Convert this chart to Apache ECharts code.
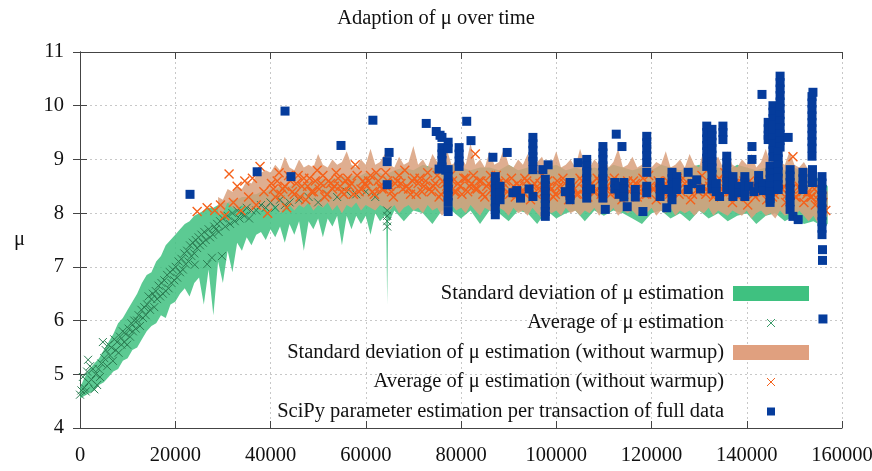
<!DOCTYPE html>
<html>
<head>
<meta charset="utf-8">
<script src="https://cdn.jsdelivr.net/npm/echarts@6/dist/echarts.min.js"></script>
<style>html,body{margin:0;padding:0;background:#fff}#c{width:872px;height:471px}</style>
</head>
<body>
<div id="c"></div>
<script>
const chartTitle = 'Adaption of μ over time';
const yAxisName = 'μ';
const seriesNames = [
  'Standard deviation of μ estimation',
  'Average of μ estimation',
  'Standard deviation of μ estimation (without warmup)',
  'Average of μ estimation (without warmup)',
  'SciPy parameter estimation per transaction of full data'
];
const xRange = [0, 160000, 20000];
const yRange = [4, 11, 1];

// Standard deviation band (all data)
const greenBandX = [0,1000,2000,3000,4000,5000,6000,7000,8000,9000,
  10000,11000,12000,13000,14000,15000,16000,17000,18000,19000,
  20000,21000,22000,23000,24000,25000,26000,27000,28000,29000,
  30000,31000,32000,33000,34000,35000,36000,37000,38000,39000,
  40000,41000,42000,43000,44000,45000,46000,47000,48000,49000,
  50000,51000,52000,53000,54000,55000,56000,57000,58000,59000,
  60000,61000,62000,63000,64000,64300,64500,64700,65000,
  66000,68000,70000,72000,74000,76000,78000,80000,82000,84000,
  86000,88000,90000,92000,94000,96000,98000,100000,102000,104000,
  106000,108000,110000,112000,114000,116000,118000,120000,122000,124000,
  126000,128000,130000,132000,134000,136000,138000,140000,142000,144000,
  146000,148000,150000,152000,154000,156000,157000];
const greenBandLow = [4.55,4.6,4.65,4.7,4.8,4.85,4.95,5.05,5.1,5.25,
  5.3,5.45,5.5,5.65,5.8,5.9,5.95,6.1,6.05,6.3,
  6.35,6.5,6.6,6.45,6.7,6.8,6.3,6.95,6.1,7.1,
  6.7,7.3,6.9,7.45,7.3,7.55,7.4,7.6,7.65,7.5,
  7.7,7.55,7.75,7.45,7.8,7.6,7.85,7.3,7.85,7.7,
  7.9,7.55,7.9,7.75,7.95,7.4,7.95,7.7,7.95,7.8,
  7.95,7.6,8.0,7.85,7.95,7.9,6.3,7.9,7.85,
  8.05,7.85,8.05,8.0,7.8,8.05,8.05,7.9,8.05,7.8,
  8.05,8.0,7.85,8.05,8.0,7.8,8.05,7.9,8.0,8.05,
  7.85,8.05,7.95,8.05,8.0,7.9,7.8,8.0,8.05,7.9,
  8.0,7.85,8.05,7.9,8.0,7.85,7.95,8.0,7.8,7.95,
  8.0,7.85,7.95,7.8,7.85,7.75,7.8];
const greenBandHigh = [4.75,4.95,5.1,5.2,5.3,5.45,5.6,5.75,5.95,6.05,
  6.2,6.35,6.5,6.7,6.85,6.9,7.1,7.2,7.4,7.5,
  7.6,7.7,7.8,7.85,7.95,8.0,8.05,8.1,8.1,8.15,
  8.2,8.2,8.25,8.25,8.3,8.3,8.35,8.35,8.4,8.4,
  8.45,8.45,8.5,8.5,8.5,8.55,8.55,8.55,8.6,8.6,
  8.6,8.65,8.6,8.65,8.65,8.7,8.65,8.7,8.7,8.7,
  8.75,8.7,8.75,8.75,8.7,8.7,8.7,8.75,8.75,
  8.8,8.85,8.8,8.9,8.85,8.8,8.9,8.85,8.8,8.85,
  8.85,8.8,8.9,8.8,8.85,8.8,8.85,8.9,8.8,8.85,
  8.8,8.85,8.8,8.9,8.85,8.8,8.85,8.8,8.9,8.85,
  8.8,8.85,8.9,8.8,8.85,8.8,8.9,8.85,8.8,8.85,
  8.85,8.8,8.85,8.75,8.7,8.6,8.5];

// Average of estimation (all data)
const greenAvg = [[0,4.62],[300,4.7],[600,4.95],[900,4.75],[1200,4.68],[1500,5.05],[1700,5.27],[1800,4.85],[2100,5.15],[2400,4.9],
  [2700,5.1],[3000,4.72],[3300,5.0],[3600,4.8],[3900,5.1],[4200,4.95],[4500,5.2],[4800,5.6],[5100,5.3],[5400,5.45],
  [5700,5.15],[6000,5.55],[6300,5.35],[6600,5.5],[6900,5.25],[7200,5.65],[7500,5.45],[7800,5.6],[8100,5.4],[8400,5.7],
  [8700,5.55],[9000,5.8],[9300,5.6],[9600,5.75],[9900,5.55],[10200,5.85],[10500,5.7],[10800,5.95],[11100,5.8],[11400,6.0],
  [11700,5.85],[12000,6.0],[12300,6.1],[12600,5.9],[12900,6.2],[13200,6.05],[13500,6.25],[13800,6.1],[14100,6.3],[14400,6.45],
  [14700,6.2],[15000,6.4],[15300,6.5],[15600,6.25],[15900,6.55],[16200,6.4],[16500,6.65],[16800,6.45],[17100,6.7],[17400,6.5],
  [17700,6.75],[18000,6.55],[18300,6.85],[18600,6.6],[18900,6.9],[19200,6.7],[19500,6.95],[19800,6.75],[20100,7.0],[20400,6.8],
  [20700,7.1],[21000,6.9],[21300,7.15],[21600,6.95],[21900,7.25],[22200,7.05],[22500,7.3],[22800,7.1],[23100,7.4],[23400,7.2],
  [23700,7.45],[24000,7.25],[24100,7.04],[24300,7.5],[24600,7.35],[24900,7.55],[25200,7.4],[25500,7.6],[25800,7.45],[26100,7.65],
  [26400,7.5],[26700,7.05],[27000,7.7],[27300,7.55],[27700,7.17],[27900,7.6],[28200,7.75],[28500,7.7],[28800,7.8],[29100,7.65],
  [29400,7.85],[29800,7.2],[30000,7.9],[30500,7.75],[31000,7.95],[31500,7.8],[32000,8.0],[32500,7.85],[33000,8.05],[33500,7.9],
  [34000,8.0],[34500,7.95],[35000,8.1],[35500,7.9],[36000,8.05],[37000,8.05],[38000,8.15],[39000,8.1],[40000,8.2],[41000,8.1],
  [42000,8.25],[43000,8.15],[44000,8.2],[46000,8.25],[48000,8.3],[50000,8.2],[52000,8.35],[54000,8.3],[56000,8.4],[58000,8.35],
  [60000,8.4],[62000,8.3],[64500,7.75],[64500,7.85],[64500,7.95],[64500,8.05]];

// Standard deviation band (without warmup)
const orangeBandX = [29000,30000,31000,32000,33000,34000,35000,36000,37000,38000,
  39000,40000,41000,42000,43000,44000,45000,46000,47000,48000,
  49000,50000,51000,52000,53000,54000,55000,56000,57000,58000,
  59000,60000,61000,62000,63000,64000,65000,66000,67000,68000,
  69000,70000,71000,72000,73000,74000,75000,76000,77000,78000,
  79000,80000,81000,82000,83000,84000,85000,86000,87000,88000,
  89000,90000,91000,92000,93000,94000,95000,96000,97000,98000,
  99000,100000,101000,102000,103000,104000,105000,106000,107000,108000,
  109000,110000,111000,112000,113000,114000,115000,116000,117000,118000,
  119000,120000,121000,122000,123000,124000,125000,126000,127000,128000,
  129000,130000,131000,132000,133000,134000,135000,136000,137000,138000,
  139000,140000,141000,142000,143000,144000,145000,146000,147000,148000,
  149000,150000,151000,152000,153000,154000,155000,156000,157000];
const orangeBandLow = [7.95,8.0,8.2,8.1,8.05,8.15,8.1,8.0,8.1,8.05,
  8.1,8.05,8.15,8.0,8.1,8.15,8.05,8.15,8.1,8.2,
  8.05,8.15,8.1,8.2,8.05,8.15,8.0,8.15,8.1,8.2,
  8.05,8.15,8.1,8.05,8.15,8.1,8.05,8.15,8.0,8.1,
  8.15,8.05,8.1,8.0,8.15,8.05,8.1,7.95,8.05,8.15,
  8.05,8.1,8.0,8.15,8.05,7.95,8.1,8.05,8.0,8.1,
  8.05,7.95,8.1,8.0,8.05,7.95,8.1,8.0,7.9,8.05,
  8.0,8.05,7.95,8.1,8.0,8.05,7.95,8.05,8.0,8.1,
  7.95,8.05,8.0,8.1,7.95,8.05,8.0,8.05,7.95,8.05,
  8.0,8.1,7.95,8.05,8.0,8.1,7.95,8.05,8.0,8.05,
  7.95,8.05,8.0,8.1,7.95,8.05,8.0,7.95,8.05,8.0,
  7.95,8.05,7.9,8.0,8.05,7.95,8.0,7.9,8.05,7.95,
  8.0,7.9,8.05,7.95,7.85,7.95,7.8,7.85,7.95];
const orangeBandHigh = [8.3,8.25,8.45,8.4,8.5,8.45,8.6,8.55,8.7,8.75,
  8.8,8.75,8.9,8.8,9.05,8.85,8.8,9.0,8.85,8.9,
  8.85,9.1,8.9,8.85,9.0,8.9,8.95,9.15,8.9,8.85,
  9.0,8.9,9.2,8.9,8.95,9.1,8.9,8.85,9.05,8.9,
  8.95,9.25,8.9,9.0,8.85,9.1,8.95,8.9,9.2,8.9,
  8.95,9.05,8.9,9.3,8.9,9.0,8.85,9.15,8.9,8.95,
  9.2,8.9,8.85,9.0,8.9,9.1,8.85,8.95,9.05,8.85,
  8.9,9.15,8.85,8.9,9.0,8.85,9.2,8.9,8.85,9.0,
  8.9,9.1,8.85,8.95,9.2,8.85,8.9,9.05,8.85,8.9,
  9.1,8.85,8.95,8.9,9.15,8.85,8.9,9.0,8.85,9.1,
  8.9,8.85,9.2,8.9,8.95,9.05,8.85,9.15,8.9,8.85,
  9.0,8.9,9.1,8.85,8.95,9.2,8.9,9.3,8.95,8.9,
  9.15,8.9,8.85,8.95,8.8,8.7,8.6,8.5,8.4];

// Average of estimation (without warmup) - first pass
const orangeAvg = [[24600,8.03],[26700,8.1],[28300,8.05],[29500,8.15],[30400,7.95],[31300,8.73],[32200,8.2],[33000,8.5],[33800,8.05],[34600,8.6],
  [35400,8.3],[36200,8.65],[37000,8.15],[37800,8.87],[38600,8.4],[39400,8.0],[40200,8.55],[41000,8.3],[41800,8.75],[42600,8.45],
  [43400,8.1],[44200,8.6],[45000,8.35],[45800,8.7],[46600,8.5],[47400,8.25],[48200,8.65],[49000,8.4],[49800,8.8],[50600,8.55],
  [51400,8.3],[52200,8.6],[53000,8.45],[53800,8.75],[54600,8.5],[55400,8.35],[56200,8.65],[57000,8.55],[57800,8.9],[58600,8.4],
  [59400,8.6],[60200,8.5],[61000,8.7],[61800,8.35],[62600,8.6],[63400,8.45],[64200,8.75],[65000,8.5],[65800,8.3],[66600,8.6],
  [67400,8.55],[68200,8.8],[69000,8.45],[69800,8.6],[70600,8.35],[71400,8.65],[72200,8.5],[73000,8.75],[73800,8.4],[74600,8.55],
  [75400,8.3],[76200,8.6],[77000,8.5],[77800,8.7],[78600,8.4],[79400,8.55],[80200,8.35],[81000,8.65],[81800,8.5],[82600,8.7],
  [83000,9.1],[83400,8.45],[84200,8.6],[85000,8.3],[85800,8.55],[86600,8.45],[87400,8.7],[88200,8.35],[89000,8.55],[89800,8.4],
  [90600,8.65],[91400,8.3],[92200,8.5],[93000,8.4],[93800,8.6],[94600,8.25],[95400,8.55],[96200,8.45],[97000,8.7],[97800,8.35],
  [98600,8.5],[99400,8.3],[100200,8.6],[101000,8.4],[101800,8.55],[102600,8.25],[103400,8.5],[104200,8.35],[105000,8.65],[105800,8.45],
  [106600,8.3],[107400,8.55],[108200,8.4],[109000,8.6],[109800,8.3],[110600,8.5],[111400,8.35],[112200,8.65],[113000,8.45],[113800,8.25],
  [114600,8.55],[115400,8.4],[116200,8.6],[117000,8.3],[117800,8.5],[118600,8.35],[119400,8.7],[120200,8.45],[121000,8.25],[121800,8.55],
  [122600,8.4],[123400,8.6],[124200,8.3],[125000,8.5],[125800,8.35],[126600,8.65],[127400,8.45],[128200,8.25],[129000,8.55],[129800,8.4],
  [130600,8.7],[131400,8.35],[132200,8.5],[133000,8.3],[133800,8.6],[134600,8.45],[135400,8.75],[136200,8.4],[137000,8.2],[137800,8.55],
  [138600,8.35],[139400,8.6],[140200,8.15],[141000,8.45],[141800,8.3],[142600,8.55],[143400,8.4],[144200,8.25],[145000,8.5],[145800,8.35],
  [146600,8.6],[147400,8.45],[148200,8.2],[149000,8.4],[149700,9.05],[150400,8.3],[151200,8.45],[152000,8.2],[152800,8.4],[153600,8.3],
  [154400,8.15],[155200,8.35],[156000,8.2],[156600,8.05]];
// Average of estimation (without warmup) - interleaved points
const orangeAvgMore = [[40600,8.45],[41400,8.6],[42200,8.35],[43000,8.5],[43800,8.7],[44600,8.4],[45400,8.55],[46200,8.3],[47000,8.65],[47800,8.5],
  [48600,8.4],[49400,8.6],[50200,8.45],[51000,8.7],[51800,8.35],[52600,8.55],[53400,8.5],[54200,8.65],[55000,8.4],[55800,8.6],
  [56600,8.5],[57400,8.35],[58200,8.7],[59000,8.45],[59800,8.55],[60600,8.6],[61400,8.4],[62200,8.75],[63000,8.5],[63800,8.45],
  [64600,8.6],[65400,8.4],[66200,8.55],[67000,8.7],[67800,8.45],[68600,8.5],[69400,8.35],[70200,8.65],[71000,8.55],[71800,8.4],
  [72600,8.6],[73400,8.45],[74200,8.5],[75000,8.7],[75800,8.35],[76600,8.55],[77400,8.45],[78200,8.6],[79000,8.4],[79800,8.5],
  [80600,8.65],[81400,8.4],[82200,8.55],[83000,8.45],[83800,8.6],[84600,8.35],[85400,8.5],[86200,8.7],[87000,8.4],[87800,8.55],
  [88600,8.45],[89400,8.6],[90200,8.35],[91000,8.5],[91800,8.55],[92600,8.4],[93400,8.65],[94200,8.45],[95000,8.5],[95800,8.35],
  [96600,8.55],[97400,8.4],[98200,8.6],[99000,8.45],[99800,8.35],[100600,8.5],[101400,8.65],[102200,8.4],[103000,8.55],[103800,8.45],
  [104600,8.35],[105400,8.6],[106200,8.45],[107000,8.5],[107800,8.4],[108600,8.65],[109400,8.35],[110200,8.55],[111000,8.45],[111800,8.6],
  [112600,8.4],[113400,8.5],[114200,8.35],[115000,8.6],[115800,8.45],[116600,8.55],[117400,8.4],[118200,8.65],[119000,8.35],[119800,8.5],
  [120600,8.45],[121400,8.6],[122200,8.4],[123000,8.55],[123800,8.35],[124600,8.5],[125400,8.65],[126200,8.4],[127000,8.55],[127800,8.45],
  [128600,8.35],[129400,8.6],[130200,8.45],[131000,8.5],[131800,8.4],[132600,8.55],[133400,8.35],[134200,8.65],[135000,8.45],[135800,8.5],
  [136600,8.4],[137400,8.55],[138200,8.3],[139000,8.5],[139800,8.45],[140600,8.6],[141400,8.35],[142200,8.5],[143000,8.4],[143800,8.55],
  [144600,8.45],[145400,8.3],[146200,8.55],[147000,8.4],[147800,8.5],[148600,8.35],[149400,8.45],[150200,8.3],[151000,8.5],[151800,8.4],
  [152600,8.35],[153400,8.3],[154200,8.45],[155000,8.25],[155800,8.3]];

// SciPy parameter estimation per transaction of full data
const sciPy = [[23100,8.35],[37200,8.77],[43050,9.9],[44300,8.68],[54800,9.26],[61500,9.73],
  [64900,9.13],[64500,8.96],[64500,8.53],
  [72700,9.67],[74800,9.52],[75600,9.45],[76000,9.41],[77300,9.32],
  [76000,9.22],[76000,9.1],[76000,8.98],[76000,8.86],[75400,8.82],[76800,8.8],
  [77300,9.2],[77300,8.81],[77300,8.68],[77300,8.56],[77300,8.44],[77300,8.32],[77300,8.2],[77300,8.03],
  [79600,9.22],[79600,9.1],[79600,8.97],[79600,8.87],
  [81200,9.71],[82100,9.35],[86700,9.04],[89700,9.13],[87200,8.68],
  [87200,8.57],[87200,8.45],[87200,8.33],[87200,8.21],[87200,8.09],[87200,7.97],[88200,8.5],[88200,8.38],[88200,8.25],
  [90900,8.38],[91700,8.42],[92500,8.28],
  [95100,9.41],[95100,9.29],[95100,9.17],[95100,9.05],[95100,8.96],[95100,8.81],[95100,8.31],[94300,8.45],
  [97200,8.81],[98300,8.9],
  [97700,8.63],[97700,8.51],[97700,8.39],[97700,8.27],[97700,8.15],[97700,8.03],[97700,7.94],
  [102900,8.57],[102900,8.45],[102900,8.33],[102900,8.25],[101900,8.4],[104600,8.94],
  [106400,9.0],[106400,8.88],[106400,8.76],[106400,8.64],[106400,8.52],[106400,8.4],[106400,8.28],[107200,8.45],
  [109800,9.24],[109800,9.12],[109800,9.0],[109800,8.88],[109800,8.76],[109800,8.64],[109800,8.52],[109800,8.4],[109800,8.28],[110300,8.07],
  [112600,9.47],[113800,9.24],
  [112300,8.57],[112300,8.45],[113200,8.5],[113200,8.35],[114200,8.57],[114200,8.45],[114200,8.3],[114900,8.12],
  [116600,8.44],[116600,8.3],[118200,8.03],
  [119000,9.43],[119000,9.31],[119000,9.19],[119000,9.07],[119000,8.94],[119000,8.76],[119000,8.5],[119000,8.38],
  [121800,8.57],[121800,8.45],[121800,8.31],[123200,8.44],[123200,8.1],
  [124300,8.76],[124300,8.64],[124300,8.52],[124300,8.4],[124300,8.25],
  [125300,8.68],[125300,8.56],[125300,8.44],[127700,8.76],[127700,8.44],[128500,8.55],[129500,8.62],[130300,8.45],
  [131600,9.62],[131600,9.5],[131600,9.38],[131600,9.26],[131600,9.14],[131600,9.02],[131600,8.87],
  [132700,9.56],[132700,9.44],[132700,9.32],[132700,9.2],[132700,9.08],[132700,8.96],[132700,8.84],[132700,8.72],[132700,8.57],[132700,8.45],
  [133600,8.55],[133600,8.4],[134300,8.31],[135000,9.62],[135000,9.5],[135000,9.37],
  [135800,9.06],[135800,8.94],[135800,8.82],[135800,8.7],[135800,8.58],[135800,8.44],
  [137100,8.68],[137100,8.56],[137100,8.44],[137100,8.31],[138300,8.5],[138300,8.38],
  [139600,8.68],[139600,8.56],[139600,8.44],[139600,8.31],
  [141100,9.24],[141100,9.0],[140500,8.5],[141500,8.4],[143200,10.21],
  [142500,8.7],[142500,8.58],[142500,8.46],[143500,8.55],[143500,8.42],
  [144500,9.69],[144500,9.57],[144500,9.45],[144500,9.37],
  [144900,8.87],[144900,8.75],[144900,8.63],[144900,8.51],[144900,8.39],[144900,8.27],[144900,8.2],
  [145500,10.0],[145500,9.88],[145500,9.76],[145500,9.64],[145500,9.52],[145500,9.4],[145500,9.28],[145500,9.16],[145500,9.04],
  [147000,10.55],[147000,10.43],[147000,10.31],[147000,10.19],[147000,10.07],[147000,9.95],[147000,9.83],[147000,9.71],[147000,9.59],[147000,9.47],[147000,9.35],[147000,9.23],
  [146600,9.13],[146600,9.01],[146600,8.89],[146600,8.77],[146600,8.65],[146600,8.53],[146600,8.44],
  [148700,9.41],
  [149100,8.81],[149100,8.69],[149100,8.57],[149100,8.45],[149100,8.33],[149100,8.21],[149100,8.07],
  [149700,7.94],[150800,7.88],
  [151800,8.76],[151800,8.64],[151800,8.52],[151800,8.44],
  [153700,10.17],[153700,10.05],[153700,9.93],[153700,9.81],[153700,9.69],[153700,9.57],[153700,9.45],[153700,9.33],[153700,9.21],[153700,9.06],[153900,10.25],
  [153800,8.81],[153800,8.69],[153800,8.57],
  [155800,8.68],[155800,8.56],[155800,8.44],[155800,8.32],[155800,8.2],[155800,8.08],[155800,7.96],[155800,7.84],[155800,7.72],[155800,7.6],
  [155900,7.32],[155900,7.12],[156000,6.03]];

const FONT = "'Liberation Serif', 'DejaVu Serif', serif";
const FS = 20.5;
const C_GREEN_BAND = '#3fc180';
const C_GREEN_X = '#2b7d52';
const C_ORANGE_BAND = '#d9a07c';
const C_ORANGE_X = '#f5611a';
const C_BLUE = '#053c9c';
const X_PATH = 'path://M0,0L10,10M10,0L0,10';

// band drawn as one polygon: upper edge forward, lower edge backward, via the axis scales
function bandSeries(name, xs, lo, hi, color, opacity) {
  return {
    type: 'custom', name: name, silent: true, clip: true,
    data: xs.map((x, i) => [x, lo[i], hi[i]]),
    encode: { x: 0, y: [1, 2] },
    renderItem: function (params, api) {
      if (params.dataIndex !== 0) return null;
      const pts = [];
      for (let i = 0; i < xs.length; i++) pts.push(api.coord([xs[i], hi[i]]));
      for (let i = xs.length - 1; i >= 0; i--) pts.push(api.coord([xs[i], lo[i]]));
      return { type: 'polygon', shape: { points: pts },
        style: { fill: color, opacity: opacity, stroke: null } };
    }
  };
}

const chart = echarts.init(document.getElementById('c'), null, { renderer: 'canvas' });
const axisCommon = {
  axisLine: { show: true, lineStyle: { color: '#444', width: 1 } },
  axisTick: { show: true, inside: true, length: 7, lineStyle: { color: '#444' } }
};
const xMarkStyle = (c, w) => ({ color: 'rgba(0,0,0,0)', borderColor: c, borderWidth: w, opacity: 1 });
chart.setOption({
  animation: false,
  backgroundColor: '#fff',
  title: { text: chartTitle, left: 'center', top: 3,
    textStyle: { fontFamily: FONT, fontSize: FS, fontWeight: 'normal', color: '#111' } },
  grid: { left: 80, right: 30, top: 52, bottom: 43, containLabel: false, outerBoundsMode: 'none' },
  legend: {
    orient: 'vertical', align: 'right', right: 63, top: 283, padding: 0,
    itemWidth: 76, itemHeight: 15, itemGap: 8.5, selectedMode: false,
    textStyle: { fontFamily: FONT, fontSize: FS, color: '#111', lineHeight: 20, padding: [0, 4, 0, 0] },
    data: [
      { name: seriesNames[0], icon: 'rect', itemStyle: { color: C_GREEN_BAND, borderWidth: 0, opacity: 1 } },
      { name: seriesNames[1], icon: 'path://M0,0M3.5,3.5L11.5,11.5M11.5,3.5L3.5,11.5M15,15',
        itemStyle: { color: 'rgba(0,0,0,0)', borderColor: '#3a9a68', borderWidth: 1 } },
      { name: seriesNames[2], icon: 'rect', itemStyle: { color: '#e0a07f', borderWidth: 0, opacity: 1 } },
      { name: seriesNames[3], icon: 'path://M0,0M3.5,3.5L11.5,11.5M11.5,3.5L3.5,11.5M15,15',
        itemStyle: { color: 'rgba(0,0,0,0)', borderColor: C_ORANGE_X, borderWidth: 1 } },
      { name: seriesNames[4], icon: 'path://M0,0M3.5,3.5L11.5,3.5L11.5,11.5L3.5,11.5ZM15,15',
        itemStyle: { color: C_BLUE, borderWidth: 0 } }
    ]
  },
  xAxis: [
    Object.assign({ type: 'value', min: xRange[0], max: xRange[1], interval: xRange[2], position: 'bottom',
      axisLabel: { fontFamily: FONT, fontSize: FS, color: '#111', margin: 17, formatter: v => String(v) },
      splitLine: { show: true, lineStyle: { color: '#c8c8c8', type: [2, 3], width: 1 } } }, axisCommon),
    Object.assign({ type: 'value', min: xRange[0], max: xRange[1], interval: xRange[2], position: 'top',
      axisLabel: { show: false }, splitLine: { show: false } }, axisCommon)
  ],
  yAxis: [
    Object.assign({ type: 'value', min: yRange[0], max: yRange[1], interval: yRange[2], position: 'left',
      name: yAxisName, nameLocation: 'middle', nameRotate: 0, nameGap: 55,
      nameTextStyle: { fontFamily: FONT, fontSize: FS, color: '#111' },
      axisLabel: { fontFamily: FONT, fontSize: FS, color: '#111', margin: 16 },
      splitLine: { show: true, lineStyle: { color: '#c8c8c8', type: [2, 3], width: 1 } } }, axisCommon),
    Object.assign({ type: 'value', min: yRange[0], max: yRange[1], interval: yRange[2], position: 'right',
      axisLabel: { show: false }, splitLine: { show: false } }, axisCommon)
  ],
  series: [
    bandSeries(seriesNames[0], greenBandX, greenBandLow, greenBandHigh, C_GREEN_BAND, 0.85),
    { type: 'scatter', name: seriesNames[1], data: greenAvg, symbol: X_PATH, symbolSize: 8, silent: true,
      itemStyle: xMarkStyle(C_GREEN_X, 1) },
    bandSeries(seriesNames[2], orangeBandX, orangeBandLow, orangeBandHigh, C_ORANGE_BAND, 0.85),
    { type: 'scatter', name: seriesNames[3], data: orangeAvg.concat(orangeAvgMore), symbol: X_PATH, symbolSize: 9, silent: true,
      itemStyle: xMarkStyle(C_ORANGE_X, 1.4) },
    { type: 'scatter', name: seriesNames[4], data: sciPy, symbol: 'rect', symbolSize: 9, silent: true,
      itemStyle: { color: C_BLUE, opacity: 1 } }
  ]
});
</script>
</body>
</html>
